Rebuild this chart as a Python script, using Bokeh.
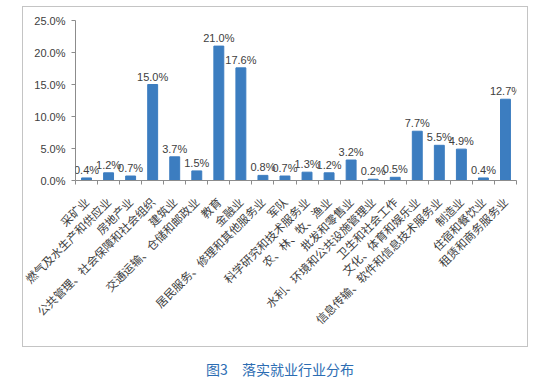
import math
from bokeh.plotting import figure
from bokeh.models import (FixedTicker, PrintfTickFormatter, Div, LabelSet, ColumnDataSource,
                          Spacer)
from bokeh.layouts import column, row
from bokeh.embed import file_html
from bokeh.resources import INLINE
from bokeh.core.properties import value

categories = [
    "采矿业", "燃气及水生产和供应业", "房地产业", "公共管理、社会保障和社会组织",
    "建筑业", "交通运输、仓储和邮政业", "教育", "金融业",
    "居民服务、修理和其他服务业", "军队", "科学研究和技术服务业", "农、林、牧、渔业",
    "批发和零售业", "水利、环境和公共设施管理业", "卫生和社会工作", "文化、体育和娱乐业",
    "信息传输、软件和信息技术服务业", "制造业", "住宿和餐饮业", "租赁和商务服务业",
]
shares = [0.4, 1.2, 0.7, 15.0, 3.7, 1.5, 21.0, 17.6, 0.8, 0.7,
          1.3, 1.2, 3.2, 0.2, 0.5, 7.7, 5.5, 4.9, 0.4, 12.7]
y_ticks = [0, 5, 10, 15, 20, 25]
title_text = "图3　落实就业行业分布"

n = len(categories)
xs = list(range(n))
labels = [f"{v:.1f}%" for v in shares]
src = ColumnDataSource(dict(x=xs, y=shares, label=labels))

p = figure(width=504, height=339, output_backend="svg", toolbar_location=None,
           x_range=(-0.5, n - 0.5), y_range=(0, 25),
           min_border_left=52, min_border_right=11, min_border_top=13,
           min_border_bottom=166)
p.outline_line_color = None
p.xgrid.visible = False
p.ygrid.visible = False
p.background_fill_color = "white"
p.border_fill_color = "white"

p.vbar(x="x", top="y", width=0.45, source=src, fill_color="#3c7dc0", line_color="#3c7dc0")
p.add_layout(LabelSet(x="x", y="y", text="label", source=src, text_align="center",
                      text_baseline="bottom", y_offset=2, text_font=value("Liberation Sans"),
                      text_font_size=value("11px"), text_color="#404040"))

axis_color = "#8c8c8c"
xa = p.xaxis[0]
xa.ticker = FixedTicker(ticks=xs, minor_ticks=[i - 0.5 for i in range(n + 1)])
xa.major_label_overrides = {i: c for i, c in enumerate(categories)}
xa.major_label_orientation = math.pi / 4
xa.major_tick_out = 0
xa.major_tick_in = 0
xa.minor_tick_out = 4
xa.minor_tick_in = 0
xa.minor_tick_line_color = axis_color
xa.axis_line_color = axis_color
xa.major_label_text_font = "Noto Sans CJK SC"
xa.major_label_text_font_size = "11.5px"
xa.major_label_text_color = "#404040"
xa.major_label_standoff = 15

ya = p.yaxis[0]
ya.ticker = FixedTicker(ticks=y_ticks)
ya.formatter = PrintfTickFormatter(format="%.1f%%")
ya.major_tick_out = 4
ya.major_tick_in = 0
ya.minor_tick_line_color = None
ya.major_tick_line_color = axis_color
ya.axis_line_color = axis_color
ya.major_label_text_font = "Liberation Sans"
ya.major_label_text_font_size = "11px"
ya.major_label_text_color = "#404040"
ya.major_label_standoff = 6

edge = {"background-color": "#c4c4c4", "font-size": "0", "line-height": "0",
        "overflow": "hidden"}
top_edge = Spacer(width=506, height=1, styles=edge)
bottom_edge = Spacer(width=506, height=1, styles=edge)
left_edge = Spacer(width=1, height=339, styles=edge)
right_edge = Spacer(width=1, height=339, styles=edge)

title = Div(text='<div style="margin-top:8px; line-height:18px;">' + title_text + '</div>',
            width=550, height=28,
            styles={"text-align": "center", "color": "#2c6db3",
                    "font-family": "Noto Sans CJK SC", "font-size": "14px"})

layout = column(
    Spacer(height=6),
    row(Spacer(width=22), top_edge, spacing=0),
    row(Spacer(width=22), left_edge, p, right_edge, spacing=0),
    row(Spacer(width=22), bottom_edge, spacing=0),
    title,
    spacing=0,
)
open("out.html", "w").write(file_html(layout, INLINE))
